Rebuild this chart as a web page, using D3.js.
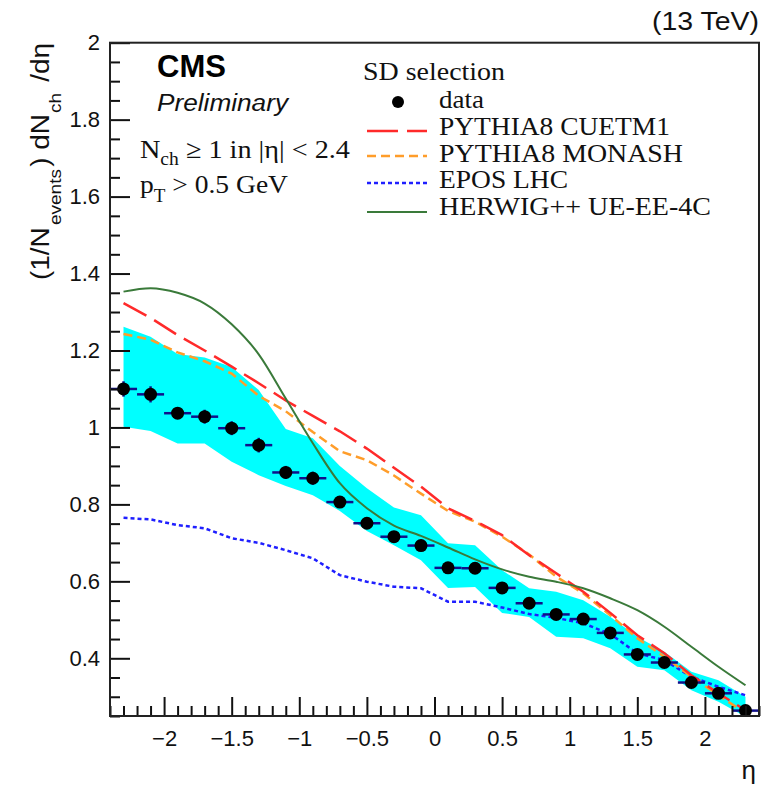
<!DOCTYPE html>
<html>
<head>
<meta charset="utf-8">
<script src="https://cdn.jsdelivr.net/npm/d3@7"></script>
<style>
  html, body { margin: 0; padding: 0; background: #fff; }
  svg { display: block; }
  .sans { font-family: "Liberation Sans", Arial, Helvetica, sans-serif; }
  .serif { font-family: "Liberation Serif", "Times New Roman", Times, serif; }
</style>
</head>
<body>
<svg id="chart" width="766" height="789"></svg>
<script>
// ---------------- data ----------------
const etaCenters = [-2.3,-2.1,-1.9,-1.7,-1.5,-1.3,-1.1,-0.9,-0.7,-0.5,-0.3,-0.1,
                    0.1,0.3,0.5,0.7,0.9,1.1,1.3,1.5,1.7,1.9,2.1,2.3];
const binHalfWidth = 0.1;
const dataValues = [1.100,1.086,1.037,1.028,0.998,0.954,0.883,0.868,0.806,0.751,0.716,0.693,
                    0.635,0.634,0.583,0.543,0.514,0.502,0.466,0.410,0.389,0.337,0.309,0.264];
const dataErr    = [0.020,0.021,0.012,0.018,0.018,0.019,0.017,0.017,0.014,0.012,0.012,0.012,
                    0.012,0.012,0.012,0.012,0.012,0.012,0.012,0.012,0.012,0.012,0.012,0.012];
const systUpper  = [1.262,1.236,1.191,1.182,1.157,1.097,0.996,0.972,0.900,0.842,0.792,0.772,
                    0.699,0.694,0.629,0.582,0.573,0.551,0.508,0.456,0.417,0.365,0.343,0.300];
const systLower  = [1.002,0.991,0.958,0.958,0.911,0.876,0.848,0.824,0.783,0.731,0.694,0.655,
                    0.583,0.585,0.518,0.507,0.456,0.452,0.426,0.378,0.369,0.317,0.287,0.248];
const pythiaCUETM1 = [1.323,1.285,1.240,1.200,1.158,1.115,1.070,1.030,0.990,0.945,0.895,0.846,
                      0.790,0.757,0.720,0.668,0.621,0.573,0.518,0.460,0.413,0.356,0.309,0.265];
const pythiaMonash = [1.243,1.228,1.195,1.172,1.140,1.082,1.042,0.988,0.938,0.915,0.875,0.828,
                      0.783,0.755,0.716,0.670,0.612,0.569,0.512,0.452,0.404,0.352,0.304,0.257];
const eposLHC      = [0.765,0.761,0.746,0.738,0.712,0.700,0.681,0.660,0.616,0.599,0.586,0.582,
                      0.547,0.547,0.532,0.515,0.505,0.491,0.463,0.413,0.395,0.352,0.326,0.304];
const herwigUEEE4C = [1.353,1.362,1.350,1.322,1.268,1.190,1.075,0.959,0.855,0.790,0.745,0.718,
                      0.688,0.657,0.631,0.612,0.599,0.582,0.556,0.525,0.482,0.430,0.378,0.330];

const xMajorTicks = [-2,-1.5,-1,-0.5,0,0.5,1,1.5,2];
const xTickLabels = ["\u22122","\u22121.5","\u22121","\u22120.5","0","0.5","1","1.5","2"];
const yMajorTicks = [0.4,0.6,0.8,1,1.2,1.4,1.6,1.8,2];
const yTickLabels = ["0.4","0.6","0.8","1","1.2","1.4","1.6","1.8","2"];

const legendTitle = "SD selection";
const legendLabels = ["data","PYTHIA8 CUETM1","PYTHIA8 MONASH","EPOS LHC","HERWIG++ UE-EE-4C"];

// ---------------- layout ----------------
const L = 110, R = 759, T = 42.7, B = 716;
const x = d3.scaleLinear().domain([-2.4, 2.4]).range([L, R]);
const y = d3.scaleLinear().domain([0.25, 2]).range([B, T]);

const svg = d3.select("#chart");

svg.append("defs").append("clipPath").attr("id","plotclip")
  .append("rect").attr("x",L).attr("y",T).attr("width",R-L).attr("height",B-T);

const plot = svg.append("g").attr("clip-path","url(#plotclip)");

// systematic band
const band = d3.area()
  .x((d,i)=>x(etaCenters[i]))
  .y0((d,i)=>y(systLower[i]))
  .y1((d,i)=>y(systUpper[i]));
plot.append("path").datum(etaCenters).attr("d", band).attr("fill","#00ffff");

// model curves
const models = [
  {vals: eposLHC,      color:"#1f1fff", dash:"4,3",  width:2.5, curve:d3.curveLinear},
  {vals: pythiaMonash, color:"#ff9d2a", dash:"9,5",  width:2.5, curve:d3.curveLinear},
  {vals: pythiaCUETM1, color:"#ff2a2a", dash:"26,9", width:2.5, curve:d3.curveLinear},
  {vals: herwigUEEE4C, color:"#3a7a3a", dash:null,   width:2,   curve:d3.curveMonotoneX}
];
models.forEach(m=>{
  const line = d3.line().x((d,i)=>x(etaCenters[i])).y((d,i)=>y(m.vals[i])).curve(m.curve);
  const p = plot.append("path").datum(m.vals).attr("d", line)
    .attr("fill","none").attr("stroke", m.color).attr("stroke-width", m.width);
  if (m.dash) p.attr("stroke-dasharray", m.dash);
});

// data error bars
const errColor = "#10108a";
const eb = svg.append("g");
etaCenters.forEach((e,i)=>{
  eb.append("line").attr("x1",x(e-binHalfWidth)).attr("x2",x(e+binHalfWidth))
    .attr("y1",y(dataValues[i])).attr("y2",y(dataValues[i]))
    .attr("stroke",errColor).attr("stroke-width",2.5);
  eb.append("line").attr("x1",x(e)).attr("x2",x(e))
    .attr("y1",y(dataValues[i]-dataErr[i])).attr("y2",y(dataValues[i]+dataErr[i]))
    .attr("stroke",errColor).attr("stroke-width",2.5);
});
svg.append("g").selectAll("circle").data(dataValues).join("circle")
  .attr("cx",(d,i)=>x(etaCenters[i])).attr("cy",d=>y(d)).attr("r",6.5).attr("fill","#000");

// axes
const xMinor = d3.range(-24, 25).map(k=>k/10).filter(v=>!xMajorTicks.some(t=>Math.abs(t-v)<1e-9));
const yMinor = d3.range(5, 41).map(k=>k*0.05).filter(v=>!yMajorTicks.some(t=>Math.abs(t-v)<1e-9));

const gxMinor = svg.append("g").attr("transform",`translate(0,${B})`)
  .call(d3.axisBottom(x).tickValues(xMinor).tickSize(-10).tickFormat(""));
const gx = svg.append("g").attr("transform",`translate(0,${B})`)
  .call(d3.axisBottom(x).tickValues(xMajorTicks).tickSize(-19).tickPadding(14)
        .tickFormat((d,i)=>xTickLabels[i]));
const gyMinor = svg.append("g").attr("transform",`translate(${L},0)`)
  .call(d3.axisLeft(y).tickValues(yMinor).tickSize(-10).tickFormat(""));
const gy = svg.append("g").attr("transform",`translate(${L},0)`)
  .call(d3.axisLeft(y).tickValues(yMajorTicks).tickSize(-20).tickPadding(10)
        .tickFormat((d,i)=>yTickLabels[i]));
[gxMinor,gx,gyMinor,gy].forEach(g=>{
  g.select(".domain").remove();
  g.selectAll(".tick line").attr("stroke","#111").attr("stroke-width",2);
  g.selectAll("text").attr("class","sans").attr("font-size",22).attr("fill","#111")
    .attr("font-family",null);
});

// frame
svg.append("rect").attr("x",L).attr("y",T).attr("width",R-L).attr("height",B-T)
  .attr("fill","none").attr("stroke","#222").attr("stroke-width",2);

// axis titles
svg.append("text").attr("class","sans").attr("x",756).attr("y",779)
  .attr("text-anchor","end").attr("font-size",26).attr("fill","#111").text("η");

const yt = svg.append("text").attr("class","sans")
  .attr("transform","translate(49,280) rotate(-90)")
  .attr("font-size",25).attr("fill","#111")
  .attr("textLength",237).attr("lengthAdjust","spacingAndGlyphs");
yt.append("tspan").text("(1/N");
yt.append("tspan").attr("font-size",17).attr("dy",12).attr("dx",2).text("events");
yt.append("tspan").attr("dy",-12).attr("dx",2).text(") dN");
yt.append("tspan").attr("font-size",17).attr("dy",12).attr("dx",1).text("ch");
yt.append("tspan").attr("dy",-12).attr("dx",3).text(" /dη");

// top-right energy label
svg.append("text").attr("class","sans").attr("x",759).attr("y",30).attr("text-anchor","end")
  .attr("font-size",25).attr("fill","#111")
  .attr("textLength",107).attr("lengthAdjust","spacingAndGlyphs").text("(13 TeV)");

// CMS labels
svg.append("text").attr("class","sans").attr("x",157).attr("y",77)
  .attr("font-size",31).attr("font-weight","bold").attr("fill","#000").text("CMS");
svg.append("text").attr("class","sans").attr("x",157).attr("y",111)
  .attr("font-size",23).attr("font-style","italic").attr("fill","#111")
  .attr("textLength",131).attr("lengthAdjust","spacingAndGlyphs").text("Preliminary");

// selection annotation
const sel1 = svg.append("text").attr("class","serif").attr("x",140).attr("y",158)
  .attr("font-size",26).attr("fill","#111")
  .attr("textLength",210).attr("lengthAdjust","spacingAndGlyphs");
sel1.append("tspan").text("N");
sel1.append("tspan").attr("font-size",18).attr("dy",7).text("ch");
sel1.append("tspan").attr("dy",-7).text(" ≥ 1 in |η| < 2.4");
const sel2 = svg.append("text").attr("class","serif").attr("x",140).attr("y",193)
  .attr("font-size",26).attr("fill","#111")
  .attr("textLength",148).attr("lengthAdjust","spacingAndGlyphs");
sel2.append("tspan").text("p");
sel2.append("tspan").attr("font-size",18).attr("dy",9).text("T");
sel2.append("tspan").attr("dy",-9).text(" > 0.5 GeV");

// legend
svg.append("text").attr("class","serif").attr("x",363).attr("y",80)
  .attr("font-size",26).attr("fill","#111")
  .attr("textLength",142).attr("lengthAdjust","spacingAndGlyphs").text(legendTitle);
const legBase = [108,135,161.5,188,215];
const legWidths = [45,231,244,129,272];
legendLabels.forEach((lab,i)=>{
  svg.append("text").attr("class","serif").attr("x",439).attr("y",legBase[i])
    .attr("font-size",26).attr("fill","#111")
    .attr("textLength",legWidths[i]).attr("lengthAdjust","spacingAndGlyphs").text(lab);
});
svg.append("circle").attr("cx",398).attr("cy",102).attr("r",6).attr("fill","#000");
const legLineY = [131,156,183,212];
const legModels = [models[2], models[1], models[0], models[3]];
legModels.forEach((m,i)=>{
  const l = svg.append("line").attr("x1",367).attr("x2",427)
    .attr("y1",legLineY[i]).attr("y2",legLineY[i])
    .attr("stroke",m.color).attr("stroke-width",m.width);
  if (m.dash) l.attr("stroke-dasharray", m.dash === "26,9" ? "31,9" : m.dash);
});
</script>
</body>
</html>
